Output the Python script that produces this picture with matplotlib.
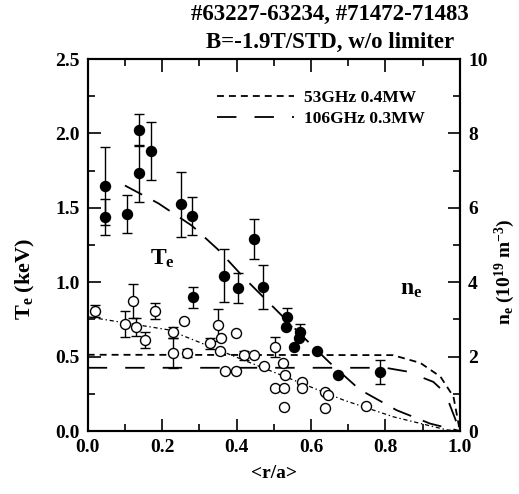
import numpy as np
import matplotlib
matplotlib.use("Agg")
import matplotlib.pyplot as plt
from matplotlib.ticker import MultipleLocator, FormatStrFormatter

# Te data (filled circles, left axis, keV)
te_r = [0.047, 0.047, 0.105, 0.139, 0.139, 0.171, 0.251, 0.281, 0.284, 0.365, 0.403,
        0.446, 0.470, 0.535, 0.534, 0.571, 0.569, 0.555, 0.616, 0.672, 0.785]
te_val = [1.646, 1.44, 1.458, 2.023, 1.732, 1.884, 1.523, 1.445, 0.898, 1.044, 0.963,
          1.29, 0.968, 0.768, 0.70, 0.667, 0.623, 0.567, 0.535, 0.374, 0.399]
te_err = [0.26, 0.12, 0.13, 0.11, 0.19, 0.195, 0.22, 0.13, 0.07, 0.18, 0.10,
          0.135, 0.15, 0.06, 0.0, 0.05, 0.0, 0.0, 0.0, 0.0, 0.08]

# ne data (open circles, right axis, 1e19 m^-3)
ne_r = [0.020, 0.123, 0.099, 0.130, 0.153, 0.181, 0.229, 0.229, 0.258, 0.267, 0.350,
        0.359, 0.329, 0.356, 0.398, 0.370, 0.398, 0.419, 0.448, 0.473, 0.504, 0.526,
        0.531, 0.504, 0.528, 0.576, 0.576, 0.528, 0.637, 0.647, 0.637, 0.749]
ne_val = [3.22, 3.50, 2.87, 2.80, 2.45, 3.22, 2.65, 2.10, 2.96, 2.10, 2.85,
          2.49, 2.36, 2.16, 2.64, 1.61, 1.61, 2.04, 2.04, 1.75, 2.27, 1.82,
          1.50, 1.15, 1.15, 1.32, 1.15, 0.64, 1.06, 0.97, 0.61, 0.67]
ne_err = [0.16, 0.46, 0.35, 0.24, 0.22, 0.22, 0.15, 0.40, 0.0, 0.10, 0.43,
          0.0, 0.15, 0.0, 0.0, 0.0, 0.0, 0.12, 0.0, 0.0, 0.27, 0.0,
          0.0, 0.0, 0.0, 0.0, 0.0, 0.0, 0.0, 0.0, 0.0, 0.0]

# fitted Te profile (long dash)
te_fit_r = [0.10, 0.19, 0.28, 0.35, 0.42, 0.50, 0.58, 0.65, 0.73, 0.83, 0.92, 1.0]
te_fit_val = [1.65, 1.53, 1.38, 1.22, 1.03, 0.83, 0.63, 0.46, 0.28, 0.14, 0.05, 0.0]

# fitted ne profile (fine dash-dot)
ne_fit_r = [0.0, 0.217, 0.351, 0.553, 0.688, 0.822, 0.965, 1.0]
ne_fit_val = [3.07, 2.72, 2.18, 1.37, 0.83, 0.38, 0.03, 0.0]

# ECH cases
ech53_r = [0.0, 0.82, 0.894, 0.948, 0.983, 1.0]
ech53_val = [2.05, 2.04, 1.83, 1.46, 0.92, 0.0]
ech106_r = [0.0, 0.80, 0.858, 0.929, 0.961, 1.0]
ech106_val = [1.70, 1.70, 1.60, 1.32, 1.02, 0.0]
ech_labels = ["53GHz 0.4MW", "106GHz 0.3MW"]

plt.rcParams['font.family'] = 'Liberation Serif'
plt.rcParams['font.weight'] = 'bold'
plt.rcParams['mathtext.fontset'] = 'custom'
plt.rcParams['mathtext.rm'] = 'Liberation Serif:bold'
plt.rcParams['mathtext.bf'] = 'Liberation Serif:bold'
plt.rcParams['mathtext.it'] = 'Liberation Serif:bold'
plt.rcParams['axes.linewidth'] = 1.5
plt.rcParams['lines.scale_dashes'] = False

fig = plt.figure(figsize=(5.19, 4.94), dpi=100)
ax = fig.add_axes([0.169, 0.1275, 0.717, 0.753])
ax2 = ax.twinx()

ax.errorbar(te_r, te_val, yerr=te_err, fmt='o', color='black', ms=7.2,
            capsize=3.5, elinewidth=1.0, capthick=1.0, zorder=3)
ax.plot(te_fit_r, te_fit_val, color='black', lw=1.3, dashes=(14, 9))

ax2.errorbar(ne_r, ne_val, yerr=ne_err, fmt='o', mfc='white', mec='black', mew=1.0,
             ecolor='black', ms=7.2, capsize=3.5, elinewidth=1.0, capthick=1.0, zorder=3)
ax2.plot(ne_fit_r, ne_fit_val, color='black', lw=0.9, dashes=(3, 2, 1, 2))
l1, = ax2.plot(ech53_r, ech53_val, color='black', lw=1.3, dashes=(5, 3.6))
l2, = ax2.plot(ech106_r, ech106_val, color='black', lw=1.3, dashes=(14, 13))

ax2.legend([l1, l2], ech_labels, loc='upper left', bbox_to_anchor=(0.33, 0.935),
           frameon=False, fontsize=12.5, handlelength=4.4, handletextpad=0.6,
           labelspacing=0.25, borderaxespad=0)

ax.set_xlim(0, 1.0)
ax.set_ylim(0, 2.5)
ax2.set_ylim(0, 10)

ax.xaxis.set_major_locator(MultipleLocator(0.2))
ax.xaxis.set_minor_locator(MultipleLocator(0.1))
ax.yaxis.set_major_locator(MultipleLocator(0.5))
ax.yaxis.set_minor_locator(MultipleLocator(0.25))
ax.xaxis.set_major_formatter(FormatStrFormatter('%.1f'))
ax.yaxis.set_major_formatter(FormatStrFormatter('%.1f'))
ax2.yaxis.set_major_locator(MultipleLocator(2))
ax2.yaxis.set_minor_locator(MultipleLocator(1))

ax.tick_params(which='both', direction='in', top=True, right=False, labelsize=14, width=1.2)
ax.tick_params(which='major', length=9, pad=6)
ax.tick_params(which='minor', length=5)
ax2.tick_params(which='both', direction='in', labelsize=14, width=1.2)
ax2.tick_params(which='major', length=9, pad=6)
ax2.tick_params(which='minor', length=5)

ax.text(0.20, 1.16, r'$\mathbf{T_e}$', fontsize=17, ha='center', va='center')
ax2.text(0.87, 3.8, r'$\mathbf{n_e}$', fontsize=17, ha='center', va='center')

ax.set_xlabel('<r/a>', fontsize=14, fontweight='bold', labelpad=6)
fig.text(0.05, 0.435, r'$\mathbf{T_e}$ (keV)', fontsize=16, rotation=90,
         ha='center', va='center')
fig.text(0.972, 0.45, r'$\mathbf{n_e}$ (10$^{\mathbf{19}}$ m$^{\mathbf{-3}}$)', fontsize=14,
         rotation=90, ha='center', va='center')

fig.text(0.636, 0.97, '#63227-63234, #71472-71483', fontsize=16.5, ha='center', va='center')
fig.text(0.636, 0.915, 'B=-1.9T/STD, w/o limiter', fontsize=16.5, ha='center', va='center')

fig.savefig('out.png', dpi=100)
